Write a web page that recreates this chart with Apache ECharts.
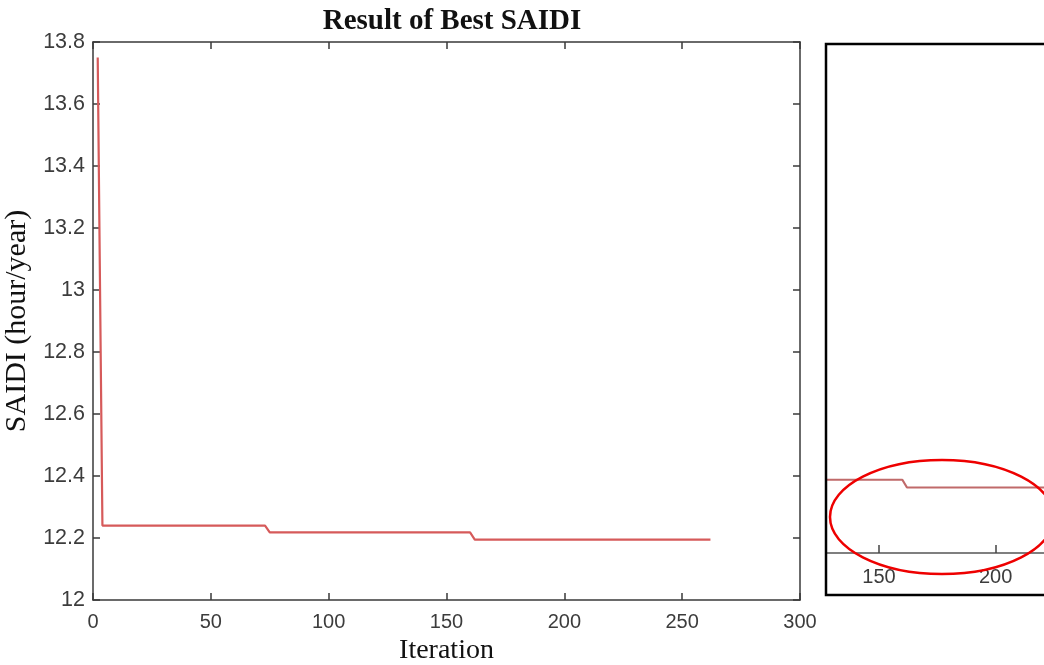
<!DOCTYPE html>
<html>
<head>
<meta charset="utf-8">
<script src="https://cdn.jsdelivr.net/npm/echarts@6/dist/echarts.min.js"></script>
<style>
html,body{margin:0;padding:0;background:#fff;}
#chart{width:1044px;height:665px;}
</style>
</head>
<body>
<div id="chart"></div>
<script>
// Data
var iterations = [2, 4, 73, 75, 160, 162, 262];
var saidi = [13.75, 12.24, 12.24, 12.218, 12.218, 12.195, 12.195];
var xTickLabels = [0, 50, 100, 150, 200, 250, 300];
var insetTicks = [150, 200];

var points = iterations.map(function (x, i) { return [x, saidi[i]]; });

var chart = echarts.init(document.getElementById('chart'), null, {renderer: 'canvas'});
var axisCol = '#3a3a3a';
var labCol = '#3c3c3c';
var sans = 'Liberation Sans';
var serif = 'Liberation Serif';

var option = {
  backgroundColor: '#ffffff',
  animation: false,
  title: {
    text: 'Result of Best SAIDI',
    left: 447, top: 2, textAlign: 'center',
    textStyle: {fontFamily: serif, fontWeight: 'bold', fontSize: 29, color: '#111'}
  },
  grid: [
    {left: 93, right: 244, top: 42, bottom: 65, outerBoundsMode: 'none', containLabel: false},
    {left: 827, top: 45, width: 240, height: 508, outerBoundsMode: 'none', containLabel: false}
  ],
  xAxis: [
    {
      gridIndex: 0, type: 'value', min: 0, max: 300, interval: 50, position: 'bottom',
      name: 'Iteration', nameLocation: 'middle', nameGap: 37,
      nameTextStyle: {fontFamily: serif, fontSize: 28, color: '#111'},
      axisLine: {show: true, lineStyle: {color: axisCol, width: 1.5}},
      axisTick: {show: true, inside: true, length: 7, lineStyle: {color: axisCol, width: 1.5}},
      axisLabel: {margin: 12, fontFamily: sans, fontSize: 20, color: labCol},
      splitLine: {show: false}
    },
    {
      gridIndex: 0, type: 'value', min: 0, max: 300, interval: 50, position: 'top',
      axisLine: {show: true, onZero: false, lineStyle: {color: axisCol, width: 1.5}},
      axisTick: {show: true, inside: true, length: 7, lineStyle: {color: axisCol, width: 1.5}},
      axisLabel: {show: false}, splitLine: {show: false}
    },
    {
      gridIndex: 1, type: 'value', min: 127.7, max: 230.6, position: 'bottom',
      axisLine: {show: true, lineStyle: {color: '#555', width: 1.5}},
      axisTick: {show: true, inside: true, length: 8, customValues: insetTicks, lineStyle: {color: '#444', width: 1.5}},
      axisLabel: {margin: 14, fontFamily: sans, fontSize: 20, color: labCol, customValues: insetTicks},
      splitLine: {show: false}
    }
  ],
  yAxis: [
    {
      gridIndex: 0, type: 'value', min: 12, max: 13.8, interval: 0.2, position: 'left',
      name: 'SAIDI (hour/year)', nameLocation: 'middle', nameGap: 54,
      nameTextStyle: {fontFamily: serif, fontSize: 30, color: '#111'},
      axisLine: {show: true, lineStyle: {color: axisCol, width: 1.5}},
      axisTick: {show: true, inside: true, length: 7, lineStyle: {color: axisCol, width: 1.5}},
      axisLabel: {margin: 8, fontFamily: sans, fontSize: 21.5, color: labCol},
      splitLine: {show: false}
    },
    {
      gridIndex: 0, type: 'value', min: 12, max: 13.8, interval: 0.2, position: 'right',
      axisLine: {show: true, onZero: false, lineStyle: {color: axisCol, width: 1.5}},
      axisTick: {show: true, inside: true, length: 7, lineStyle: {color: axisCol, width: 1.5}},
      axisLabel: {show: false}, splitLine: {show: false}
    },
    {
      gridIndex: 1, type: 'value', min: 12, max: 13.512, show: false
    }
  ],
  series: [
    {
      type: 'line', xAxisIndex: 0, yAxisIndex: 0, data: points,
      showSymbol: false, symbol: 'none',
      lineStyle: {color: '#d65a5a', width: 2.2}
    },
    {
      type: 'line', xAxisIndex: 2, yAxisIndex: 2, data: points,
      showSymbol: false, symbol: 'none', clip: true,
      lineStyle: {color: '#c06a6a', width: 2.2}
    }
  ],
  graphic: [
    {
      type: 'rect', shape: {x: 826, y: 44, width: 300, height: 551},
      style: {fill: 'none', stroke: '#000', lineWidth: 2.5}, z: 100
    },
    {
      type: 'ellipse', shape: {cx: 942, cy: 517, rx: 112, ry: 57},
      style: {fill: 'none', stroke: '#ee0000', lineWidth: 2.5}, z: 101
    }
  ]
};
chart.setOption(option);
</script>
</body>
</html>
